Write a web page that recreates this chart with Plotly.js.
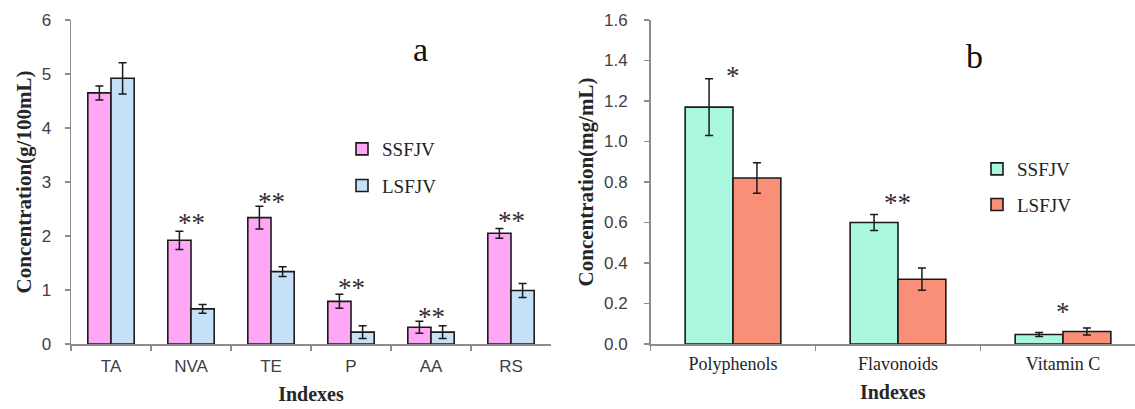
<!DOCTYPE html>
<html>
<head>
<meta charset="utf-8">
<script src="https://cdn.plot.ly/plotly-3.0.1.min.js"></script>
<style>
  html, body { margin: 0; padding: 0; background: #ffffff; overflow: hidden; }
  #chart { width: 1135px; height: 409px; }
</style>
</head>
<body>
<div id="chart"></div>
<script>
// ---- Panel a data ----
const catsA = ["TA", "NVA", "TE", "P", "AA", "RS"];
const ssfjvA = [4.65, 1.92, 2.34, 0.79, 0.31, 2.05];
const ssfjvAErr = [0.13, 0.17, 0.21, 0.13, 0.11, 0.09];
const lsfjvA = [4.92, 0.65, 1.34, 0.22, 0.22, 0.99];
const lsfjvAErr = [0.29, 0.08, 0.09, 0.12, 0.12, 0.13];
const sigA = ["", "**", "**", "**", "**", "**"];
const sigAY = [null, 2.35, 2.75, 1.15, 0.61, 2.38];

// ---- Panel b data ----
const catsB = ["Polyphenols", "Flavonoids", "Vitamin C"];
const ssfjvB = [1.17, 0.60, 0.047];
const ssfjvBErr = [0.14, 0.04, 0.01];
const lsfjvB = [0.82, 0.32, 0.062];
const lsfjvBErr = [0.075, 0.055, 0.017];
const sigB = ["*", "**", "*"];
const sigBY = [1.355, 0.727, 0.19];

const seriesNames = ["SSFJV", "LSFJV"];

const W = 1135, H = 409;
const mT = 20, mB = 65;
const PH = H - mT - mB;
const outline = {color: "#1a1a1a", width: 1.6};
const errStyle = {color: "#1a1a1a", thickness: 1.5, width: 4};

const traces = [
  {type: "bar", x: catsA, y: ssfjvA, name: seriesNames[0], xaxis: "x", yaxis: "y",
   marker: {color: "#FFA6F5", line: outline},
   error_y: Object.assign({type: "data", array: ssfjvAErr, visible: true}, errStyle),
   legend: "legend", legendgroup: "a1"},
  {type: "bar", x: catsA, y: lsfjvA, name: seriesNames[1], xaxis: "x", yaxis: "y",
   marker: {color: "#C6E0F7", line: outline},
   error_y: Object.assign({type: "data", array: lsfjvAErr, visible: true}, errStyle),
   legend: "legend", legendgroup: "a2"},
  {type: "bar", x: catsB, y: ssfjvB, name: seriesNames[0], xaxis: "x2", yaxis: "y2",
   marker: {color: "#AAF7DF", line: outline},
   error_y: Object.assign({type: "data", array: ssfjvBErr, visible: true}, errStyle),
   legend: "legend2", legendgroup: "b1"},
  {type: "bar", x: catsB, y: lsfjvB, name: seriesNames[1], xaxis: "x2", yaxis: "y2",
   marker: {color: "#F98F77", line: outline},
   error_y: Object.assign({type: "data", array: lsfjvBErr, visible: true}, errStyle),
   legend: "legend2", legendgroup: "b2"}
];

const axisLine = {showline: true, linecolor: "#8c8c8c", linewidth: 1.5, showgrid: false,
  zeroline: false, ticks: "outside", ticklen: 5, tickcolor: "#8c8c8c", tickwidth: 1.2};
const sansTick = {family: "Liberation Sans, Arial, sans-serif", size: 17, color: "#404040"};
const serifTick = {family: "Liberation Serif, Times New Roman, serif", size: 18, color: "#262626"};
const titleFont = {family: "Liberation Serif, Times New Roman, serif", size: 20, color: "#262626", weight: "bold"};
const yTitleFont = Object.assign({}, titleFont, {size: 21});
const starFont = {family: "Liberation Serif, Times New Roman, serif", size: 27, color: "#303030"};

const annotations = [];
sigA.forEach((s, i) => {
  if (s) annotations.push({xref: "x", yref: "y", x: catsA[i], y: sigAY[i], text: s,
    showarrow: false, xanchor: "center", yanchor: "middle", yshift: -6, font: starFont});
});
sigB.forEach((s, i) => {
  if (s) annotations.push({xref: "x2", yref: "y2", x: catsB[i], y: sigBY[i], text: s,
    showarrow: false, xanchor: "center", yanchor: "middle", yshift: -6, font: starFont});
});
const letterFont = {family: "Liberation Serif, Times New Roman, serif", size: 34, color: "#111111"};
annotations.push({xref: "paper", yref: "paper", x: 420 / W, y: (H - mB - 50) / PH,
  xanchor: "center", yanchor: "middle", text: "a", showarrow: false, font: letterFont});
annotations.push({xref: "paper", yref: "paper", x: 974 / W, y: (H - mB - 57) / PH,
  xanchor: "center", yanchor: "middle", text: "b", showarrow: false, font: letterFont});

const legendFont = {family: "Liberation Serif, Times New Roman, serif", size: 19, color: "#222222"};

const layout = {
  width: W, height: H,
  margin: {l: 0, r: 0, t: mT, b: mB},
  paper_bgcolor: "#ffffff", plot_bgcolor: "#ffffff",
  barmode: "group", bargap: 0.42, bargroupgap: 0,
  showlegend: true,
  xaxis: Object.assign({}, axisLine, {domain: [71 / W, 551 / W], anchor: "y", type: "category",
    range: [-0.5, 5.5], tickson: "boundaries", tickfont: sansTick, ticklabelstandoff: 6,
    title: {text: "Indexes", font: titleFont, standoff: 12}}),
  yaxis: Object.assign({}, axisLine, {anchor: "x", range: [0, 6], dtick: 1, tickfont: sansTick,
    ticklabelstandoff: 10,
    title: {text: "Concentration(g/100mL)", font: yTitleFont, standoff: 4}}),
  xaxis2: Object.assign({}, axisLine, {domain: [650.5 / W, 1], anchor: "y2", type: "category",
    range: [-0.5, 2.5 - 10.5 / 165], tickson: "boundaries", tickfont: serifTick, ticklabelstandoff: 3,
    title: {text: "Indexes", font: titleFont, standoff: 12}}),
  yaxis2: Object.assign({}, axisLine, {anchor: "x2", range: [0, 1.6], dtick: 0.2, tickformat: ".1f",
    tickfont: sansTick, ticklabelstandoff: 13,
    title: {text: "Concentration(mg/mL)", font: yTitleFont, standoff: 4}}),
  legend: {x: 342 / W, y: (H - mB - 130) / PH, xanchor: "left", yanchor: "top",
    bgcolor: "rgba(0,0,0,0)", font: legendFont, tracegroupgap: 9, itemwidth: 30, traceorder: "grouped"},
  legend2: {x: 977 / W, y: (H - mB - 150) / PH, xanchor: "left", yanchor: "top",
    bgcolor: "rgba(0,0,0,0)", font: legendFont, tracegroupgap: 8, itemwidth: 30, traceorder: "grouped"},
  annotations: annotations
};

Plotly.newPlot("chart", traces, layout, {staticPlot: true, displayModeBar: false});
</script>
</body>
</html>
